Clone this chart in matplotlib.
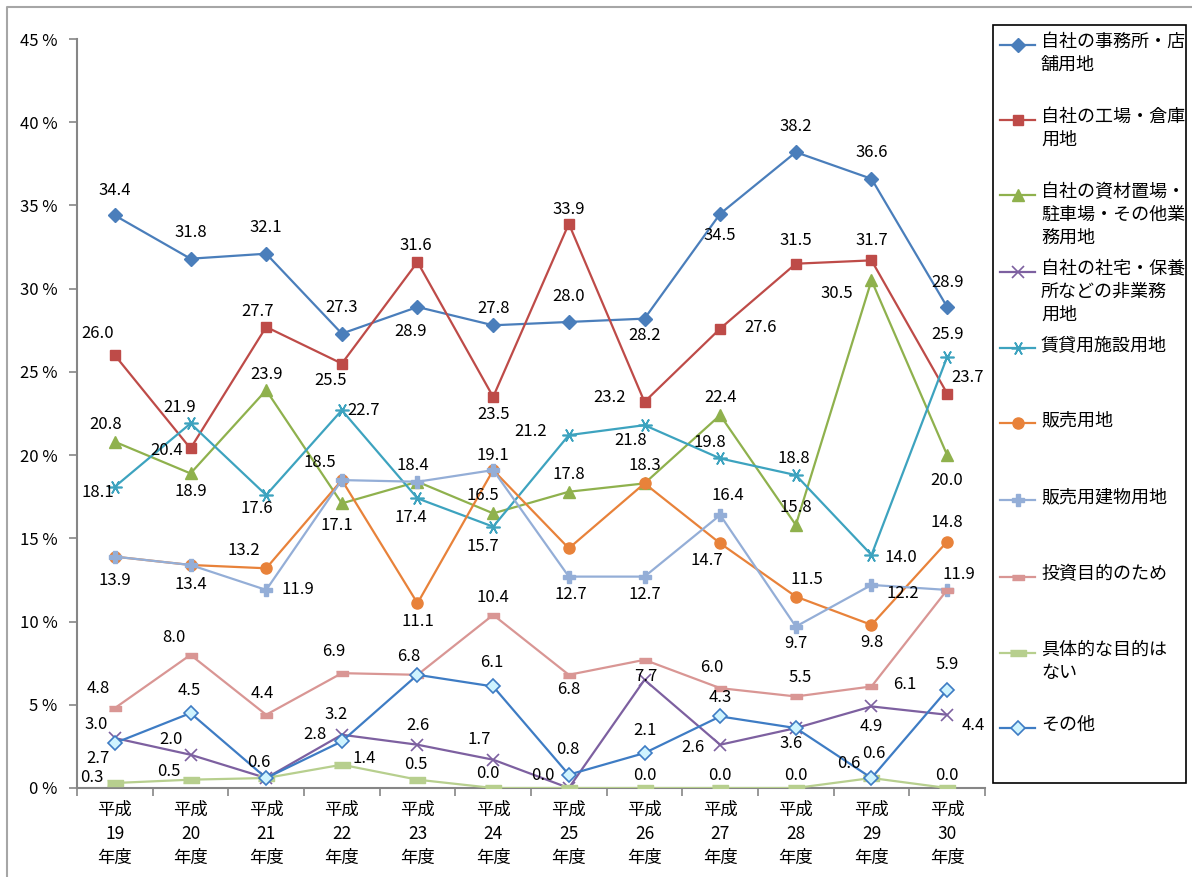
import matplotlib
matplotlib.use("Agg")
import matplotlib.pyplot as plt
from matplotlib.lines import Line2D
from matplotlib.patches import Rectangle

plt.rcParams['font.family'] = ['Noto Sans CJK JP', 'DejaVu Sans']

years = ["平成\n19\n年度", "平成\n20\n年度", "平成\n21\n年度", "平成\n22\n年度", "平成\n23\n年度", "平成\n24\n年度",
         "平成\n25\n年度", "平成\n26\n年度", "平成\n27\n年度", "平成\n28\n年度", "平成\n29\n年度", "平成\n30\n年度"]

office = [34.4, 31.8, 32.1, 27.3, 28.9, 27.8, 28.0, 28.2, 34.5, 38.2, 36.6, 28.9]
factory = [26.0, 20.4, 27.7, 25.5, 31.6, 23.5, 33.9, 23.2, 27.6, 31.5, 31.7, 23.7]
material = [20.8, 18.9, 23.9, 17.1, 18.4, 16.5, 17.8, 18.3, 22.4, 15.8, 30.5, 20.0]
housing = [3.0, 2.0, 0.6, 3.2, 2.6, 1.7, 0.0, 6.5, 2.6, 3.6, 4.9, 4.4]
rental = [18.1, 21.9, 17.6, 22.7, 17.4, 15.7, 21.2, 21.8, 19.8, 18.8, 14.0, 25.9]
sale_land = [13.9, 13.4, 13.2, 18.5, 11.1, 19.1, 14.4, 18.3, 14.7, 11.5, 9.8, 14.8]
sale_bldg = [13.9, 13.4, 11.9, 18.5, 18.4, 19.1, 12.7, 12.7, 16.4, 9.7, 12.2, 11.9]
invest = [4.8, 8.0, 4.4, 6.9, 6.8, 10.4, 6.8, 7.7, 6.0, 5.5, 6.1, 11.9]
no_purpose = [0.3, 0.5, 0.6, 1.4, 0.5, 0.0, 0.0, 0.0, 0.0, 0.0, 0.6, 0.0]
other = [2.7, 4.5, 0.6, 2.8, 6.8, 6.1, 0.8, 2.1, 4.3, 3.6, 0.6, 5.9]

names = ["自社の事務所・店\n舗用地", "自社の工場・倉庫\n用地", "自社の資材置場・\n駐車場・その他業\n務用地",
         "自社の社宅・保養\n所などの非業務\n用地", "賃貸用施設用地", "販売用地", "販売用建物用地",
         "投資目的のため", "具体的な目的は\nない", "その他"]

W, H = 1192, 877
fig = plt.figure(figsize=(W / 100, H / 100), dpi=100)

def fx(px):
    return px / W

def fy(py):
    return 1 - py / H

ax = fig.add_axes([fx(77), fy(788), fx(985) - fx(77), fy(39) - fy(788)])

dash = [(-1, -0.45), (1, -0.45), (1, 0.45), (-1, 0.45)]
styles = [
    dict(color="#4A7EBB", marker="D", ms=7.5, mfc="#4A7EBB", mec="#4A7EBB"),
    dict(color="#BE4B48", marker="s", ms=7.5, mfc="#BE4B48", mec="#BE4B48"),
    dict(color="#8FB14D", marker="^", ms=9, mfc="#8FB14D", mec="#8FB14D"),
    dict(color="#7D60A0", marker="x", ms=8.5, mew=1.2),
    dict(color="#3DA3BF", marker=(6, 2, 90), ms=10, mew=1.2),
    dict(color="#E8823A", marker="o", ms=8, mfc="#E8823A", mec="#E8823A"),
    dict(color="#94AED7", marker="P", ms=8.5, mfc="#94AED7", mec="#94AED7"),
    dict(color="#D99694", marker=dash, ms=8, mfc="#D99694", mec="#D99694"),
    dict(color="#B7CF8E", marker=dash, ms=11, mfc="#B7CF8E", mec="#B7CF8E"),
    dict(color="#3E7CC4", marker="D", ms=7, mfc="#CFF4FF", mec="#3E7CC4", mew=1.2),
]

series = [office, factory, material, housing, rental, sale_land, sale_bldg, invest, no_purpose, other]

# label offsets in pixels (dx, dy downwards); None = label hidden
offs = [
    [(0, -25), (0, -26), (0, -26), (0, -26), (-7, 25), (0, -17), (0, -25), (0, 17), (0, 22), (0, -26), (0, -26), (0, -24)],
    [(-17, -22), (-24, 2), (-9, -15), (-11, 17), (-2, -17), (0, 18), (0, -14), (-35, -4), (40, -1), (0, -23), (0, -20), (20, -16)],
    [(-9, -17), (0, 18), (0, -16), (-5, 22), None, (-10, -18), (0, -17), None, (0, -18), (0, -18), (-35, 13), (0, 25)],
    [(-19, -14), (-19, -15), None, (-6, -20), (0, -19), (-14, -20), (-26, -13), None, (-27, 3), (-5, 15), (0, 20), (26, 11)],
    [(-17, 6), (-11, -16), (-9, 13), (22, 0), (-7, 19), (-10, 20), (-38, -4), (-14, 15), (-10, -16), (-2, -17), (29, 3), (0, -22)],
    [(0, 24), (0, 20), (-22, -18), (-22, -18), (0, 18), (0, -15), None, (0, -18), (-13, 17), (11, -17), (0, 18), (0, -19)],
    [None, None, (32, 0), None, (-5, -16), None, (2, 18), (0, 18), (8, -20), (0, 17), (31, 9), (12, -15)],
    [(-17, -20), (-17, -17), (-4, -21), (-8, -22), (-9, -18), (0, -17), (0, 15), (1, 17), (-8, -21), (4, -19), (33, -2), None],
    [(-23, -6), (-22, -8), None, (22, -6), (-2, -15), (-5, -14), None, (0, -13), (0, -13), (0, -13), (-23, -15), (0, -13)],
    [(-17, 15), (-1, -23), (-7, -16), (-27, -7), None, (-1, -24), (-1, -25), (0, -23), (0, -19), None, (2, -25), (0, -25)],
]

x = list(range(len(years)))
for vals, st, off in zip(series, styles, offs):
    ax.plot(x, vals, lw=1.6, **st, zorder=3)
    for xi, v, o in zip(x, vals, off):
        if o is None:
            continue
        ax.annotate(f"{v:.1f}", (xi, v), xytext=(o[0] * 0.72, -o[1] * 0.72), textcoords="offset points",
                    ha="center", va="center", fontsize=12, color="black", zorder=5)

ax.set_xlim(-0.5, 11.5)
ax.set_ylim(0, 45)
ax.set_yticks(range(0, 46, 5))
ax.set_yticklabels([f"{v} %" for v in range(0, 46, 5)], fontsize=12)
ax.set_xticks(x)
ax.set_xticklabels(years, fontsize=12.5, linespacing=1.45)
ax.set_xticks([i + 0.5 for i in range(-1, 12)], minor=True)
ax.tick_params(axis="x", which="major", length=0, pad=9)
ax.tick_params(axis="x", which="minor", length=6, color="#868686", width=1.2)
ax.tick_params(axis="y", length=6, color="#868686", width=1.2, pad=8)
for s in ["top", "right"]:
    ax.spines[s].set_visible(False)
for s in ["left", "bottom"]:
    ax.spines[s].set_color("#868686")
    ax.spines[s].set_linewidth(1.5)

# legend box
fig.add_artist(Rectangle((fx(993), fy(783)), fx(1186) - fx(993), fy(25) - fy(783), transform=fig.transFigure,
                         fill=False, ec="black", lw=1.2))
entry_y = [45, 120, 195, 272, 348, 423, 500, 577, 653, 728]
for name, st, ey in zip(names, styles, entry_y):
    fig.add_artist(Line2D([fx(1000), fx(1035)], [fy(ey), fy(ey)], transform=fig.transFigure, lw=1.6,
                          color=st["color"]))
    mk = {k: v for k, v in st.items() if k != "color"}
    fig.add_artist(Line2D([fx(1018)], [fy(ey)], transform=fig.transFigure, lw=0, color=st["color"], **mk))
    fig.text(fx(1041), fy(ey - 12), name, ha="left", va="top", fontsize=13, linespacing=1.35)

# chart border
fig.add_artist(Line2D([fx(7), fx(7), 1], [0, fy(7), fy(7)], transform=fig.transFigure, color="#A6A6A6", lw=1.5))

fig.savefig("out.png", dpi=100)
